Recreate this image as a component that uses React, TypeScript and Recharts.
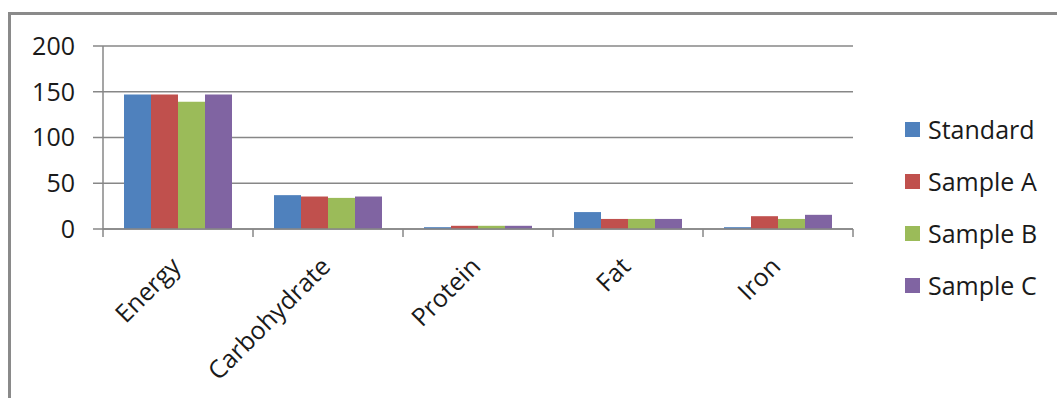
import React from "react";
import { BarChart, Bar, XAxis, YAxis, CartesianGrid } from "recharts";

const categories = ["Energy", "Carbohydrate", "Protein", "Fat", "Iron"];
const standard = [147, 37, 2, 18.5, 2];
const sampleA = [147, 35.5, 3.5, 11, 14];
const sampleB = [139, 34, 3.5, 11, 11];
const sampleC = [147, 35.5, 3.5, 11, 15.5];
const yTicks = [0, 50, 100, 150, 200];

const seriesNames = ["Standard", "Sample A", "Sample B", "Sample C"];
const seriesColors = ["#4F81BD", "#C0504D", "#9BBB59", "#8064A2"];
const seriesValues = [standard, sampleA, sampleB, sampleC];

const data = categories.map((c, i) => {
  const row: Record<string, string | number> = { name: c };
  seriesNames.forEach((s, j) => {
    row[s] = seriesValues[j][i];
  });
  return row;
});

const FONT = "'Open Sans', 'Noto Sans', sans-serif";
const GRID = "#878787";
const TEXT = "#1a1a1a";
const FS = 25;

const XTick = (props: any) => {
  const { x, y, payload, index, visibleTicksCount } = props;
  const off = payload && payload.offset ? payload.offset : 75;
  const isLast = index === (visibleTicksCount ?? categories.length) - 1;
  return (
    <g>
      <line x1={x - off} y1={y} x2={x - off} y2={y + 8} stroke={GRID} strokeWidth={1.5} />
      {isLast && <line x1={x + off} y1={y} x2={x + off} y2={y + 8} stroke={GRID} strokeWidth={1.5} />}
      <text
        transform={`translate(${x + 4},${y + 39}) rotate(-45)`}
        textAnchor="end"
        fontSize={FS}
        fontFamily={FONT}
        fill={TEXT}
      >
        {payload.value}
      </text>
    </g>
  );
};

export default function App() {
  return (
    <div style={{ position: "absolute", left: 0, top: 0, width: 1057, height: 398, background: "#fff", overflow: "hidden" }}>
      <div
        style={{
          position: "absolute",
          left: 8,
          top: 12,
          width: 1049,
          height: 386,
          borderLeft: "3px solid #8a8a8a",
          borderTop: "3px solid #8a8a8a",
          boxSizing: "border-box",
        }}
      />
      <div style={{ position: "absolute", left: 0, top: 0 }}>
        <BarChart
          width={1057}
          height={398}
          data={data}
          margin={{ top: 46, right: 204, bottom: 0, left: 0 }}
          barCategoryGap="14%"
          barGap={0}
        >
          <CartesianGrid horizontal vertical={false} stroke={GRID} strokeWidth={1.5} />
          <XAxis
            dataKey="name"
            axisLine={{ stroke: GRID, strokeWidth: 1.5 }}
            tickLine={false}
            tickSize={0}
            tickMargin={0}
            tick={<XTick />}
            interval={0}
            height={169}
          />
          <YAxis
            domain={[0, 200]}
            ticks={yTicks}
            width={103}
            axisLine={{ stroke: GRID, strokeWidth: 1.5 }}
            tickLine={{ stroke: GRID, strokeWidth: 1.5 }}
            tickSize={10}
            tickMargin={18}
            tick={{ fontSize: FS, fontFamily: FONT, fill: TEXT }}
          />
          {seriesNames.map((s, j) => (
            <Bar key={s} dataKey={s} name={s} fill={seriesColors[j]} isAnimationActive={false} />
          ))}
        </BarChart>
      </div>
      <div style={{ position: "absolute", left: 905, top: 103, fontFamily: FONT, fontSize: FS, color: TEXT }}>
        {seriesNames.map((s, j) => (
          <div key={s} style={{ height: 52, display: "flex", alignItems: "center" }}>
            <span style={{ width: 15, height: 15, background: seriesColors[j], display: "inline-block", marginRight: 8 }} />
            <span style={{ lineHeight: "25px", whiteSpace: "nowrap" }}>{s}</span>
          </div>
        ))}
      </div>
    </div>
  );
}
